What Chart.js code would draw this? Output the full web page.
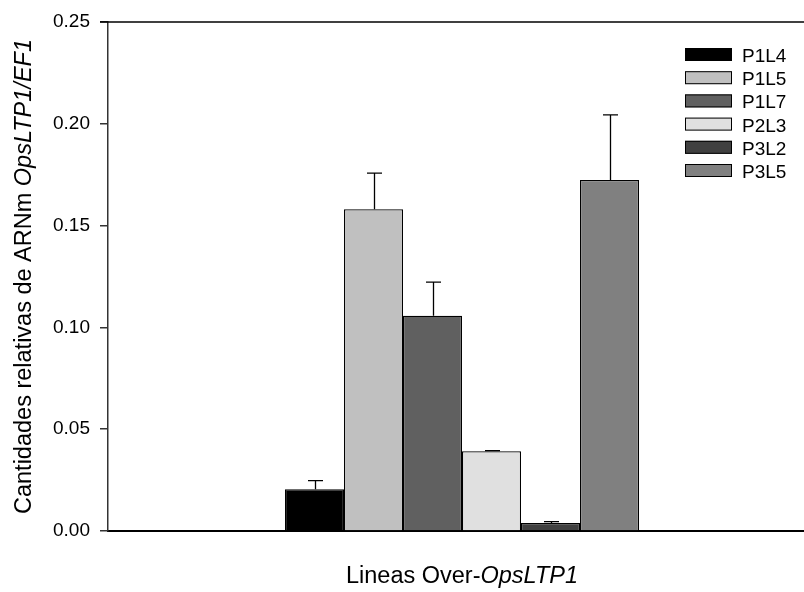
<!DOCTYPE html>
<html>
<head>
<meta charset="utf-8">
<script src="https://cdn.jsdelivr.net/npm/chart.js@4/dist/chart.umd.min.js"></script>
<style>
  html, body { margin: 0; padding: 0; background: #fff; overflow: hidden; }
  #wrap { width: 840px; height: 592px; }
</style>
</head>
<body>
<div id="wrap"><canvas id="c" width="840" height="592" style="width:840px;height:592px"></canvas></div>
<script>
// ---- data ----
const categories = ['Lineas Over-OpsLTP1'];
const seriesNames = ['P1L4', 'P1L5', 'P1L7', 'P2L3', 'P3L2', 'P3L5'];
const seriesValues = [0.0205, 0.158, 0.1057, 0.0392, 0.0039, 0.1724];
const seriesErrors = [0.0042, 0.0178, 0.0165, 0.0003, 0.0007, 0.032];
const yTicks = [0.00, 0.05, 0.10, 0.15, 0.20, 0.25];

// ---- styles ----
const fills = ['#000000', '#c0c0c0', '#606060', '#e0e0e0', '#404040', '#808080'];
const FONT = '"Liberation Sans", Arial, sans-serif';

const datasets = seriesNames.map((name, i) => ({
  label: name,
  data: [seriesValues[i]],
  backgroundColor: fills[i],
  borderColor: '#000',
  borderWidth: 1.2,
  categoryPercentage: 0.5,
  barPercentage: 1.0
}));

function drawMixed(ctx, parts, x, y, align) {
  let total = 0;
  const widths = parts.map(p => {
    ctx.font = (p.italic ? 'italic ' : '') + p.size + 'px ' + FONT;
    const w = ctx.measureText(p.text).width;
    total += w;
    return w;
  });
  let cx = align === 'center' ? x - total / 2 : x;
  parts.forEach((p, i) => {
    ctx.font = (p.italic ? 'italic ' : '') + p.size + 'px ' + FONT;
    ctx.textAlign = 'left';
    ctx.fillText(p.text, cx, y);
    cx += widths[i];
  });
}

const extras = {
  id: 'extras',
  afterDatasetsDraw(chart) {
    const ctx = chart.ctx;
    const ys = chart.scales.y;
    ctx.save();
    ctx.strokeStyle = '#000';
    ctx.lineWidth = 1.3;
    seriesValues.forEach((v, i) => {
      const bar = chart.getDatasetMeta(i).data[0];
      const x = Math.round(bar.x) + 0.5;
      const yTop = ys.getPixelForValue(v);
      const yErr = ys.getPixelForValue(v + seriesErrors[i]);
      ctx.beginPath();
      ctx.moveTo(x, yTop);
      ctx.lineTo(x, yErr);
      ctx.moveTo(x - 7.5, yErr);
      ctx.lineTo(x + 7.5, yErr);
      ctx.stroke();
    });
    ctx.restore();
  },
  afterDraw(chart) {
    const ctx = chart.ctx;
    const a = chart.chartArea;
    ctx.save();
    ctx.strokeStyle = '#000';
    ctx.lineWidth = 1.5;
    ctx.beginPath();
    ctx.moveTo(a.left - 8, a.top);
    ctx.lineTo(chart.width, a.top);
    ctx.stroke();

    ctx.textBaseline = 'alphabetic';
    seriesNames.forEach((name, i) => {
      const top = 48 + i * 23.2;
      ctx.fillStyle = fills[i];
      ctx.fillRect(685, top, 47, 13);
      ctx.strokeStyle = '#000';
      ctx.lineWidth = 1;
      ctx.strokeRect(685.5, top + 0.5, 46, 12);
      ctx.fillStyle = '#000';
      ctx.font = '19px ' + FONT;
      ctx.textAlign = 'left';
      ctx.fillText(name, 742, top + 14);
    });

    ctx.fillStyle = '#000';
    drawMixed(ctx, [
      {text: 'Lineas Over-', italic: false, size: 23.5},
      {text: 'OpsLTP1', italic: true, size: 23.5}
    ], (a.left + a.right) / 2, 583, 'center');

    ctx.save();
    ctx.translate(31, (a.top + a.bottom) / 2);
    ctx.rotate(-Math.PI / 2);
    drawMixed(ctx, [
      {text: 'Cantidades relativas de ARNm ', italic: false, size: 23.5},
      {text: 'OpsLTP1/EF1', italic: true, size: 23.5}
    ], 0, 0, 'center');
    ctx.restore();
    ctx.restore();
  }
};

new Chart(document.getElementById('c'), {
  type: 'bar',
  data: { labels: categories, datasets },
  options: {
    responsive: false,
    animation: false,
    devicePixelRatio: 1,
    layout: { padding: { left: 0, top: 22, right: 24, bottom: 61 } },
    plugins: { legend: { display: false }, tooltip: { enabled: false } },
    scales: {
      x: {
        grid: { display: false, drawTicks: false },
        ticks: { display: false },
        border: { display: true, color: '#000', width: 2 },
        afterFit(s) { s.height = 0; }
      },
      y: {
        min: 0,
        max: 0.25,
        afterBuildTicks(s) { s.ticks = yTicks.map(v => ({ value: v })); },
        ticks: {
          color: '#000',
          padding: 10,
          font: { family: FONT, size: 19 },
          callback: v => Number(v).toFixed(2)
        },
        grid: { drawOnChartArea: false, drawTicks: true, tickLength: 8, color: '#333', lineWidth: 1.5 },
        border: { display: true, color: '#333', width: 1.5 },
        afterFit(s) { s.width = 108; }
      }
    }
  },
  plugins: [extras]
});
</script>
</body>
</html>
